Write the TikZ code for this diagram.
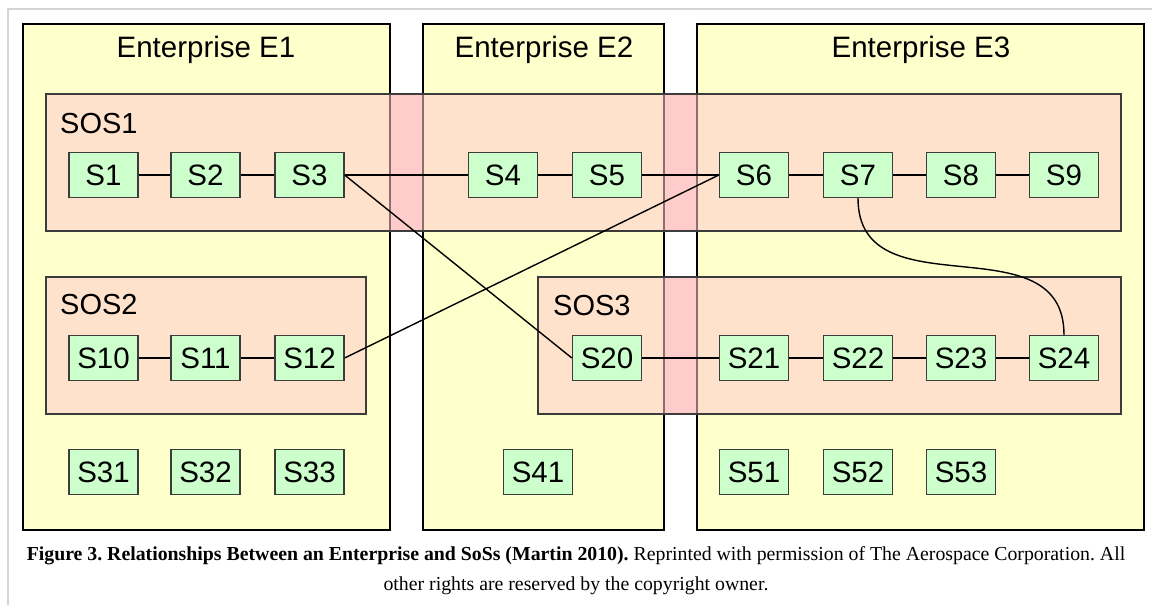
\documentclass[tikz,border=0pt]{standalone}
\usepackage{fontspec}
\setmainfont{Liberation Sans}
\newfontfamily\capfont{Liberation Serif}
\usetikzlibrary{positioning}
\definecolor{entyellow}{RGB}{255,255,204}
\definecolor{sospeach}{RGB}{255,226,204}
\definecolor{gappink}{RGB}{255,204,204}
\definecolor{sysgreen}{RGB}{204,255,204}
\definecolor{edgegray}{RGB}{60,60,60}
\definecolor{seengray}{RGB}{140,110,110}
\definecolor{framegray}{RGB}{212,212,212}
\frenchspacing

\begin{document}
\begin{tikzpicture}[x=1pt, y=-1pt,
  ent/.style={draw=black, line width=2.5pt, fill=entyellow},
  sos/.style={draw=edgegray, line width=1.5pt},
  sys/.style={draw=edgegray, line width=1.3pt, fill=sysgreen, minimum width=69pt,
    minimum height=45pt, inner sep=0pt, font=\fontsize{29.5}{34}\selectfont},
  enttitle/.style={font=\fontsize{29.5}{34}\selectfont},
  sostitle/.style={anchor=west, inner sep=0pt, font=\fontsize{29}{34}\selectfont},
  link/.style={black, line width=1.4pt}]
  \useasboundingbox (0,0) rectangle (1152,605);
  \fill[white] (0,0) rectangle (1152,605);
  \draw[framegray, line width=1.5pt] (1152,9) -- (8,9) -- (8,605);

  % enterprises
  \draw[ent] (23,24) rectangle (390,530);
  \draw[ent] (423,24) rectangle (664,530);
  \draw[ent] (697,24) rectangle (1144,530);
  \node[enttitle] (t1) at (206,50) {Enterprise E1};
  \node[enttitle] (t2) at (544,50) {Enterprise E2};
  \node[enttitle] (t3) at (921,50) {Enterprise E3};

  % systems of systems
  \fill[sospeach] (46,94) rectangle (1121,231);
  \fill[sospeach] (46,277) rectangle (366,414);
  \fill[sospeach] (538,277) rectangle (1121,414);
  \fill[gappink] (390,94) rectangle (423,231);
  \fill[gappink] (664,94) rectangle (697,231);
  \fill[gappink] (664,277) rectangle (697,414);
  \foreach \x in {390,423,664,697}
    \draw[seengray, line width=1.5pt] (\x,94) -- (\x,231);
  \foreach \x in {664,697}
    \draw[seengray, line width=1.5pt] (\x,277) -- (\x,414);
  \draw[sos] (46,94) rectangle (1121,231);
  \draw[sos] (46,277) rectangle (366,414);
  \draw[sos] (538,277) rectangle (1121,414);
  \node[sostitle] (sos1) at (60,124) {SOS1};
  \node[sostitle] (sos2) at (60,305) {SOS2};
  \node[sostitle] (sos3) at (553,306) {SOS3};

  % SOS1 systems
  \node[sys] (s1) at (103.5,175) {S1};
  \node[sys] (s2) at (205.5,175) {S2};
  \node[sys] (s3) at (309.5,175) {S3};
  \node[sys] (s4) at (503,175) {S4};
  \node[sys] (s5) at (607,175) {S5};
  \node[sys] (s6) at (754,175) {S6};
  \node[sys] (s7) at (858,175) {S7};
  \node[sys] (s8) at (961,175) {S8};
  \node[sys] (s9) at (1064,175) {S9};
  % SOS2 and SOS3 systems
  \node[sys] (s10) at (103.5,358) {S10};
  \node[sys] (s11) at (205.5,358) {S11};
  \node[sys] (s12) at (309.5,358) {S12};
  \node[sys] (s20) at (607,358) {S20};
  \node[sys] (s21) at (754,358) {S21};
  \node[sys] (s22) at (858,358) {S22};
  \node[sys] (s23) at (961,358) {S23};
  \node[sys] (s24) at (1064,358) {S24};
  % loose systems
  \node[sys] (s31) at (103.5,472) {S31};
  \node[sys] (s32) at (205.5,472) {S32};
  \node[sys] (s33) at (309.5,472) {S33};
  \node[sys] (s41) at (538,472) {S41};
  \node[sys] (s51) at (754,472) {S51};
  \node[sys] (s52) at (858,472) {S52};
  \node[sys] (s53) at (961,472) {S53};

  % links
  \draw[link] (s1) -- (s2) -- (s3) -- (s4) -- (s5) -- (s6) -- (s7) -- (s8) -- (s9);
  \draw[link] (s10) -- (s11) -- (s12);
  \draw[link] (s20) -- (s21) -- (s22) -- (s23) -- (s24);
  \draw[link] (s3.east) -- (s20.west);
  \draw[link] (s12.east) -- (s6.west);
  \draw[link] (s7.south) to[out=-90, in=90, looseness=1.2] (s24.north);

  % caption
  \node[align=center, font=\capfont\fontsize{19.8}{30}\selectfont] (cap) at (576,571)
    {\textbf{Figure 3. Relationships Between an Enterprise and SoSs (Martin 2010).} Reprinted with permission of The Aerospace Corporation. All\\
     other rights are reserved by the copyright owner.};
\end{tikzpicture}
\end{document}
